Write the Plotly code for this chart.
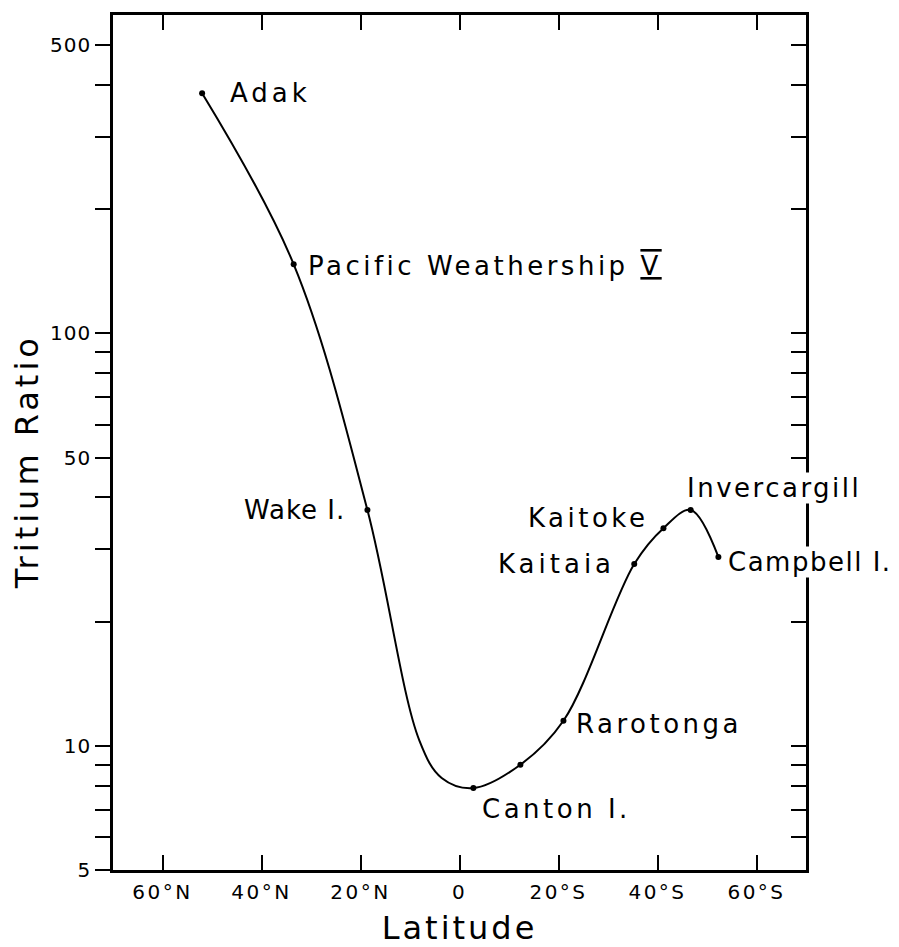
import math
import plotly.graph_objects as go

# Sampling stations; latitude in degrees, north negative, south positive
station_names = ["Adak", "Pacific Weathership V", "Wake I.", "Canton I.", None,
                 "Rarotonga", "Kaitaia", "Kaitoke", "Invercargill", "Campbell I."]
station_lat = [-52.0, -33.5, -18.6, 2.8, 12.3, 21.0, 35.3, 41.2, 46.7, 52.3]
tritium_ratio = [382, 147, 37.3, 7.9, 9.0, 11.5, 27.6, 33.7, 37.3, 28.7]

# Additional knots of the drawn curve in the equatorial trough
trough_lat = [-8.1, -3.6]
trough_ratio = [10.3, 8.36]

lat_ticks = [-60, -40, -20, 0, 20, 40, 60]
lat_tick_text = ["60°N", "40°N", "20°N", "0", "20°S", "40°S", "60°S"]
ratio_ticks = [5, 6, 7, 8, 9, 10, 20, 30, 40, 50, 60, 70, 80, 90, 100, 200, 300, 400, 500]
ratio_labelled = [5, 10, 50, 100, 500]

FONT = "DejaVu Sans"


def spaced(text, px):
    return f'<span style="letter-spacing:{px}px">{text}</span>'


# curve knots sorted by latitude
knots = sorted(zip(station_lat + trough_lat, tritium_ratio + trough_ratio))
curve_lat = [k[0] for k in knots]
curve_ratio = [k[1] for k in knots]

fig = go.Figure()
fig.add_trace(go.Scatter(
    x=curve_lat, y=curve_ratio, mode="lines",
    line=dict(color="black", width=2, shape="spline", smoothing=1.0),
    hoverinfo="skip", showlegend=False, yaxis="y2",
))
fig.add_trace(go.Scatter(
    x=station_lat, y=tritium_ratio, mode="markers",
    marker=dict(color="black", size=6),
    text=[n or "" for n in station_names],
    showlegend=False,
))

# label placement: (xanchor, xshift, yshift, letter spacing) relative to the station
label_pos = {
    "Adak": ("left", 27, 0, 4),
    "Pacific Weathership V": ("left", 13, -2, 3.5),
    "Wake I.": ("right", -21, 0, 1),
    "Canton I.": ("left", 8, -21, 3.5),
    "Rarotonga": ("left", 12, -3, 3.5),
    "Kaitaia": ("right", -18, 0, 4),
    "Kaitoke": ("right", -14, 10, 3.5),
    "Invercargill": ("left", -5, 22, 2.5),
    "Campbell I.": ("left", 9, -5, 1.5),
}

for name, lat, val in zip(station_names, station_lat, tritium_ratio):
    if not name:
        continue
    xa, xs, ys, ls = label_pos[name]
    if name.endswith(" V"):
        txt = (spaced(name[:-1], ls) +
               f'<span style="letter-spacing:{ls}px;text-decoration:underline overline">V</span>')
    else:
        txt = spaced(name, ls)
    fig.add_annotation(
        x=lat, y=math.log10(val), yref="y", xref="x", text=txt, showarrow=False,
        xanchor=xa, yanchor="middle", xshift=xs, yshift=ys,
        font=dict(family=FONT, size=26, color="black"),
        bgcolor="white", borderpad=0,
    )

# y-axis title, placed slightly below the middle of the frame
fig.add_annotation(
    xref="paper", yref="paper", x=-0.124, y=0.477,
    text=spaced("Tritium Ratio", 4), textangle=-90, showarrow=False,
    xanchor="center", yanchor="middle",
    font=dict(family=FONT, size=32, color="black"),
)

# log axis range: 5 at the bottom, a little headroom above 500
y_range = [math.log10(5), math.log10(500) + 30 / 412.5]

axis_common = dict(
    showline=True, linecolor="black", linewidth=2.5,
    showgrid=False, zeroline=False, automargin=False,
    tickcolor="black", tickwidth=2, ticklen=15,
)

fig.update_layout(
    width=899, height=947,
    margin=dict(l=113, r=93, t=15, b=77),
    paper_bgcolor="white", plot_bgcolor="white",
    font=dict(family=FONT, color="black"),
    xaxis=dict(
        **axis_common,
        range=[-70, 70], mirror="ticks", ticks="inside",
        tickvals=lat_ticks,
        ticktext=[spaced(t, 2.5) for t in lat_tick_text],
        tickfont=dict(family=FONT, size=20),
        ticklabelstandoff=2,
        title=dict(text=spaced("Latitude", 3), font=dict(family=FONT, size=32), standoff=24),
    ),
    yaxis=dict(
        **axis_common,
        type="log", range=y_range, ticks="outside",
        tickvals=ratio_ticks,
        ticktext=[spaced(str(v), 1) if v in ratio_labelled else "" for v in ratio_ticks],
        tickfont=dict(family=FONT, size=20),
        ticklabelstandoff=0,
    ),
    yaxis2=dict(
        **axis_common,
        type="log", range=y_range, ticks="inside",
        overlaying="y", side="right", anchor="x",
        tickvals=ratio_ticks, showticklabels=False,
    ),
)

fig.write_html("out.html")
